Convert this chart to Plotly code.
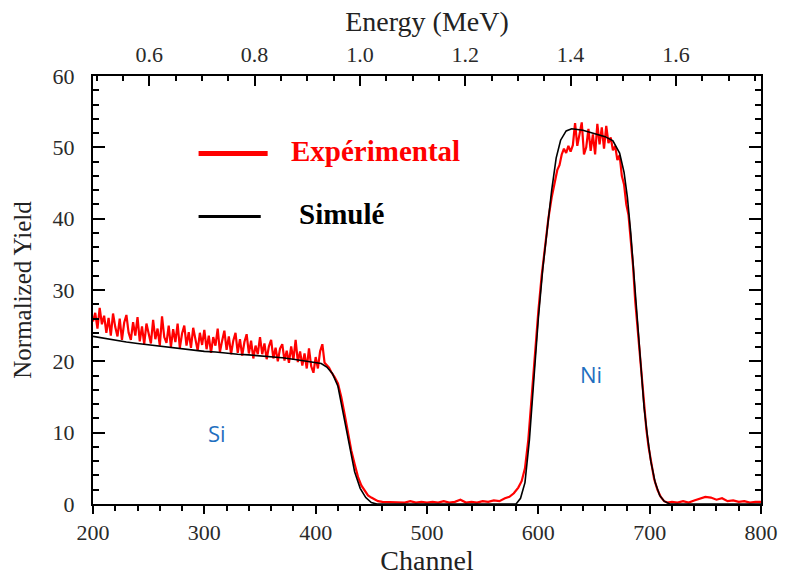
import plotly.graph_objects as go

# ---- Simulated spectrum (smooth) ----
sim_channel = [200, 210, 220, 230, 240, 250, 260, 270, 280, 290, 300, 310, 320, 330, 340,
               350, 360, 370, 380, 390, 400, 405, 410, 415, 420, 425, 430, 435, 440, 445,
               450, 455, 500, 580, 584, 588, 592, 596, 600, 604, 608, 612, 616, 620, 625,
               630, 640, 650, 660, 667, 673, 677, 680, 683, 686, 689, 692, 695, 698, 701,
               705, 709, 713, 718, 760, 800]
sim_yield = [23.5, 23.2, 23.0, 22.7, 22.5, 22.3, 22.1, 21.9, 21.7, 21.5, 21.4, 21.3, 21.1, 21.0, 20.9,
             20.8, 20.7, 20.5, 20.3, 20.1, 19.9, 19.7, 19.2, 18.3, 16.5, 12.5, 8.0, 4.5, 2.2, 0.9,
             0.2, 0.0, 0.0, 0.0, 0.8, 3.0, 9.0, 18.0, 26.0, 33.0, 38.5, 44.0, 48.5, 51.0, 52.3,
             52.6, 52.4, 52.0, 51.5, 50.9, 49.2, 46.5, 43.0, 38.0, 32.0, 25.0, 19.0, 13.5, 9.5, 6.0,
             3.0, 1.2, 0.4, 0.0, 0.0, 0.0]

# ---- Experimental spectrum ----
exp_channel = (
    list(range(200, 416, 2))
    + [417, 420, 423, 426, 429, 432, 435, 438, 441, 444, 447, 450, 453, 456, 460]
    + list(range(465, 570, 5))
    + [570, 574, 578, 582, 585, 588, 591, 594, 597, 600, 603, 606, 609, 612, 615]
    + list(range(617, 700, 2))
    + [701, 704, 707, 710, 713, 716]
    + list(range(720, 801, 5))
)
exp_yield = (
    # Si plateau, channels 200-414
    [25.6, 26.8, 24.6, 27.5, 25.2, 26.4, 24.0, 26.1, 23.6, 26.7,
     24.8, 23.5, 26.0, 23.0, 25.4, 26.5, 24.0, 23.0, 25.5, 23.6,
     26.2, 22.8, 24.9, 22.4, 25.3, 24.1, 22.5, 25.8, 23.1, 24.6,
     22.2, 26.3, 23.4, 22.6, 25.0, 22.0, 24.5, 22.7, 25.3, 21.9,
     23.9, 25.0, 22.2, 24.1, 21.9, 24.7, 22.8, 21.5, 24.0, 22.3,
     24.4, 21.7, 23.6, 21.2, 23.4, 22.2, 24.6, 21.3, 22.9, 24.3,
     21.6, 23.5, 21.0, 22.9, 24.0, 21.2, 23.1, 20.8, 22.7, 23.8,
     21.1, 22.9, 20.4, 22.2, 21.0, 23.4, 21.0, 22.5, 20.3, 22.1,
     23.0, 20.4, 21.9, 20.0, 21.8, 22.4, 20.1, 21.5, 19.8, 22.1,
     20.2, 23.0, 19.9, 21.4, 19.4, 21.1, 19.0, 21.8, 19.3, 18.4,
     20.6, 19.0, 21.4, 22.4, 19.8, 19.5, 19.1, 18.5]
    # Si edge
    + [17.8, 16.9, 15.0, 12.6, 9.8, 7.5, 5.6, 3.8, 2.6, 1.8, 1.2, 0.9, 0.6, 0.4, 0.3]
    # background between the two peaks
    + [0.3, 0.2, 0.3, 0.2, 0.4, 0.2, 0.3, 0.2, 0.3, 0.2, 0.4, 0.2, 0.3, 0.6, 0.2,
       0.3, 0.2, 0.4, 0.3, 0.5, 0.4]
    # Ni rising edge
    + [0.8, 1.0, 1.5, 2.3, 3.2, 5.0, 9.0, 15.0, 21.5, 27.0, 32.0, 36.0, 40.0, 43.0, 45.5]
    # Ni peak and falling edge, channels 617-699
    + [46.8, 47.5, 49.0, 49.8, 49.2, 50.2, 49.4, 50.3, 53.4, 50.2,
       52.0, 53.5, 49.0, 50.0, 52.6, 49.5, 51.8, 49.0, 53.3, 50.4,
       52.8, 49.8, 53.0, 50.6, 51.4, 49.6, 50.2, 48.2, 48.9, 46.0,
       44.8, 42.0, 40.5, 37.5, 33.5, 28.5, 25.0, 21.0, 17.0, 13.8,
       10.5, 8.0]
    + [6.0, 3.5, 2.0, 1.0, 0.4, 0.2]
    # high-channel background
    + [0.3, 0.2, 0.4, 0.2, 0.5, 0.7, 1.0, 0.9, 0.6, 0.8, 0.4, 0.5, 0.3, 0.4, 0.2, 0.3, 0.3]
)

# ---- Channel -> energy calibration (MeV) for the top axis ----
energy_offset = 0.0704
energy_per_channel = 0.002114
channel_limits = [200, 800]
energy_limits = [energy_offset + energy_per_channel * c for c in channel_limits]

SERIF = "Liberation Serif"
TICK_COLOR = "#2a2a2a"

fig = go.Figure()

fig.add_trace(go.Scatter(
    x=exp_channel, y=exp_yield, mode="lines",
    line=dict(color="#ff0000", width=2.2), name="Expérimental", showlegend=False,
))
fig.add_trace(go.Scatter(
    x=sim_channel, y=sim_yield, mode="lines",
    line=dict(color="#000000", width=1.6), name="Simulé", showlegend=False,
))
# carrier trace so the energy axis is laid out
fig.add_trace(go.Scatter(
    x=energy_limits, y=[0, 0], xaxis="x2", mode="markers",
    marker=dict(opacity=0), hoverinfo="skip", showlegend=False,
))

fig.update_layout(
    width=790, height=579,
    margin=dict(l=93, r=20, t=76, b=67),
    paper_bgcolor="white", plot_bgcolor="white",
    font=dict(family=SERIF, color=TICK_COLOR),
    xaxis=dict(
        range=channel_limits, dtick=100, tick0=200,
        showline=True, linecolor="black", linewidth=2, mirror=False,
        ticks="outside", ticklen=8, tickwidth=2, tickcolor="black",
        minor=dict(dtick=20, ticks="outside", ticklen=5, tickwidth=1.5, tickcolor="black"),
        showgrid=False, zeroline=False,
        tickfont=dict(size=22, family=SERIF, color=TICK_COLOR),
        title=dict(text="Channel", font=dict(size=28, family=SERIF, color="#222"), standoff=2),
    ),
    xaxis2=dict(
        range=energy_limits, overlaying="x", side="top", anchor="y",
        tickvals=[0.6, 0.8, 1.0, 1.2, 1.4, 1.6],
        ticktext=["0.6", "0.8", "1.0", "1.2", "1.4", "1.6"],
        showline=True, linecolor="black", linewidth=2,
        ticks="inside", ticklen=10, tickwidth=2, tickcolor="black",
        minor=dict(tickvals=[0.5, 0.55, 0.65, 0.7, 0.75, 0.85, 0.9, 0.95, 1.05, 1.1, 1.15,
                             1.25, 1.3, 1.35, 1.45, 1.5, 1.55, 1.65, 1.7, 1.75],
                   ticks="inside", ticklen=5, tickwidth=1.5, tickcolor="black"),
        showgrid=False, zeroline=False,
        tickfont=dict(size=22, family=SERIF, color=TICK_COLOR),
        ticklabelstandoff=3,
        title=dict(text="Energy (MeV)", font=dict(size=28, family=SERIF, color="#222"), standoff=2),
    ),
    yaxis=dict(
        range=[0, 60], dtick=10,
        showline=True, linecolor="black", linewidth=2, mirror="ticks",
        ticks="inside", ticklen=12, tickwidth=2, tickcolor="black",
        minor=dict(dtick=2, ticks="inside", ticklen=6, tickwidth=1.5, tickcolor="black"),
        showgrid=False, zeroline=False,
        tickfont=dict(size=22, family=SERIF, color=TICK_COLOR),
        ticklabelstandoff=12,
        title=dict(text="Normalized Yield", font=dict(size=25, family=SERIF, color="#222"), standoff=14),
    ),
)

# legend drawn inside the plot area
fig.add_shape(type="line", xref="paper", yref="paper",
              x0=(200 - 93) / 677, x1=(270 - 93) / 677,
              y0=(512 - 155) / 436, y1=(512 - 155) / 436,
              line=dict(color="#ff0000", width=5))
fig.add_shape(type="line", xref="paper", yref="paper",
              x0=(200 - 93) / 677, x1=(263 - 93) / 677,
              y0=(512 - 219) / 436, y1=(512 - 219) / 436,
              line=dict(color="#000000", width=3))
fig.add_annotation(xref="paper", yref="paper", x=(292 - 93) / 677, y=(512 - 152) / 436,
                   xanchor="left", yanchor="middle", showarrow=False,
                   text="<b>Expérimental</b>", font=dict(size=29, family=SERIF, color="#ff0000"))
fig.add_annotation(xref="paper", yref="paper", x=(300 - 93) / 677, y=(512 - 217) / 436,
                   xanchor="left", yanchor="middle", showarrow=False,
                   text="<b>Simulé</b>", font=dict(size=29, family=SERIF, color="#000000"))

# element labels
fig.add_annotation(x=311, y=9.9, xref="x", yref="y", showarrow=False, xanchor="center",
                   text="Si", font=dict(size=22, family="Open Sans, Noto Sans, sans-serif", color="#1f6fc0"))
fig.add_annotation(x=647, y=18.2, xref="x", yref="y", showarrow=False, xanchor="center",
                   text="Ni", font=dict(size=22, family="Open Sans, Noto Sans, sans-serif", color="#1f6fc0"))

fig.write_html("out.html")
